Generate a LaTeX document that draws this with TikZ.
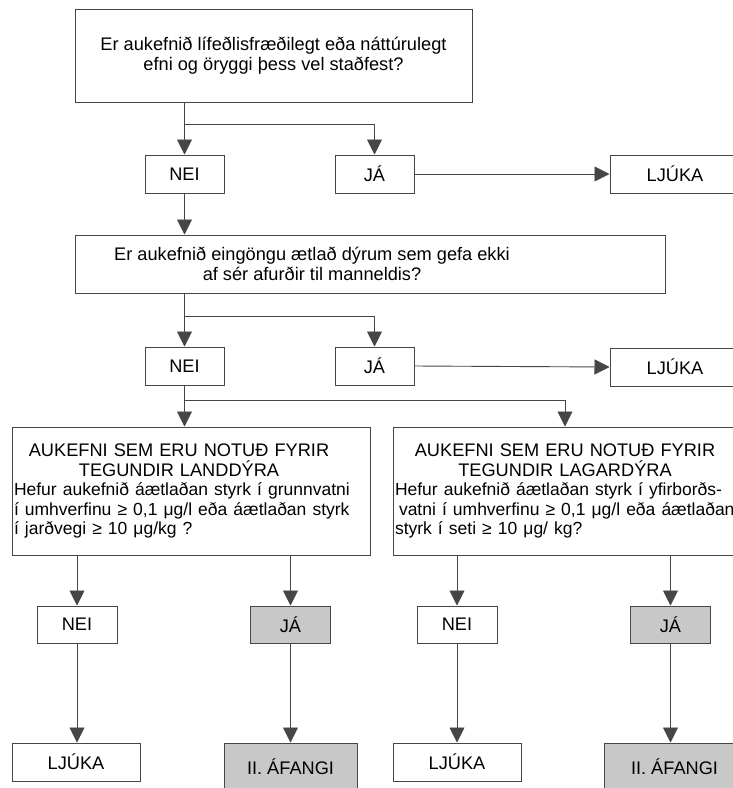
\documentclass[tikz,border=0pt]{standalone}
\usepackage{fontspec}
\setmainfont{Liberation Sans}
\usetikzlibrary{arrows.meta}
\definecolor{linegray}{RGB}{70,70,70}
\definecolor{boxgray}{RGB}{200,200,200}
\newcommand{\bodysize}{\fontsize{17.5}{19.5}\selectfont}

\begin{document}
\begin{tikzpicture}[x=1pt,y=-1pt,
  every node/.style={font=\fontsize{18.2}{19.5}\selectfont, text=black},
  box/.style={draw=linegray, line width=1pt, fill=white, inner sep=2pt},
  graybox/.style={box, fill=boxgray},
  arr/.style={draw=linegray, line width=0.9pt, -{Triangle[width=15pt,length=15pt]}}]
\clip (0,0) rectangle (733,788);
% questions
\node[box, minimum width=397pt, minimum height=93pt, align=center,
  font=\fontsize{18.2}{20}\selectfont] (q1) at (273.5,55.5)
  {Er aukefnið lífeðlisfræðilegt eða náttúrulegt\\efni og öryggi þess vel staðfest?};
\node[box, minimum width=79pt, minimum height=38pt] (n1) at (184.5,174) {NEI};
\node[box, minimum width=79pt, minimum height=38pt] (y1) at (374.5,174) {JÁ};
\node[box, minimum width=130pt, minimum height=38pt] (l1) at (675,174) {LJÚKA};
\node[box, minimum width=590pt, minimum height=58pt] (q2) at (370,264) {};
\node[align=center] (q2t) at (312,264)
  {Er aukefnið eingöngu ætlað dýrum sem gefa ekki\\af sér afurðir til manneldis?};
\node[box, minimum width=79pt, minimum height=38pt] (n2) at (184.5,366) {NEI};
\node[box, minimum width=79pt, minimum height=38pt] (y2) at (374.5,366) {JÁ};
\node[box, minimum width=130pt, minimum height=38pt] (l2) at (675,367) {LJÚKA};
% land and water animals
\node[box, minimum width=358pt, minimum height=128pt, text width=354pt, align=left] (q3l) at (191,491)
  {{\centering AUKEFNI SEM ERU NOTUÐ FYRIR\hspace*{24pt}\mbox{}\\TEGUNDIR LANDDÝRA\hspace*{24pt}\mbox{}\par}
   \bodysize Hefur aukefnið áætlaðan styrk í grunnvatni\\í umhverfinu ≥ 0,1 μg/l eða áætlaðan styrk\\í jarðvegi ≥ 10 μg/kg ?};
\node[box, minimum width=358pt, minimum height=128pt, text width=354pt, align=left] (q3r) at (572,491)
  {{\centering AUKEFNI SEM ERU NOTUÐ FYRIR\hspace*{14pt}\mbox{}\\TEGUNDIR LAGARDÝRA\hspace*{14pt}\mbox{}\par}
   \bodysize Hefur aukefnið áætlaðan styrk í yfirborðs-\\\hspace*{4pt}vatni í umhverfinu ≥ 0,1 μg/l eða áætlaðan\\styrk í seti ≥ 10 μg/ kg?};
\node[box, minimum width=80pt, minimum height=37pt] (n3) at (77,624.5) {NEI};
\node[graybox, minimum width=80pt, minimum height=37pt] (y3) at (290.5,624.5) {JÁ};
\node[box, minimum width=80pt, minimum height=37pt] (n4) at (457,624.5) {NEI};
\node[graybox, minimum width=80pt, minimum height=37pt] (y4) at (670.5,624.5) {JÁ};
\node[box, minimum width=128pt, minimum height=38pt] (l3) at (76,762) {LJÚKA};
\node[graybox, minimum width=133pt, minimum height=48pt] (f1) at (290.5,767) {II. ÁFANGI};
\node[box, minimum width=128pt, minimum height=38pt] (l4) at (457,762) {LJÚKA};
\node[graybox, minimum width=141pt, minimum height=48pt] (f2) at (674.5,767) {II. ÁFANGI};
% connectors
\draw[arr] (q1.south -| n1.north) -- (n1.north);
\draw[arr] (q1.south -| n1.north) ++(0,22) -| (y1.north);
\draw[arr] (y1.east) -- (l1.west);
\draw[arr] (n1.south) -- (n1.south |- q2.north);
\draw[arr] (q2.south -| n2.north) -- (n2.north);
\draw[arr] (q2.south -| n2.north) ++(0,23) -| (y2.north);
\draw[arr] (y2.east) -- (l2.west);
\draw[arr] (n2.south) -- (n2.south |- q3l.north);
\draw[arr] (n2.south) ++(0,15) -| ([xshift=-7pt]q3r.north);
\draw[arr] (q3l.south -| n3.north) -- (n3.north);
\draw[arr] (q3l.south -| y3.north) -- (y3.north);
\draw[arr] (q3r.south -| n4.north) -- (n4.north);
\draw[arr] (q3r.south -| y4.north) -- (y4.north);
\draw[arr] (n3.south) -- (n3.south |- l3.north);
\draw[arr] (y3.south) -- (y3.south |- f1.north);
\draw[arr] (n4.south) -- (n4.south |- l4.north);
\draw[arr] (y4.south) -- (y4.south |- f2.north);
\end{tikzpicture}
\end{document}
